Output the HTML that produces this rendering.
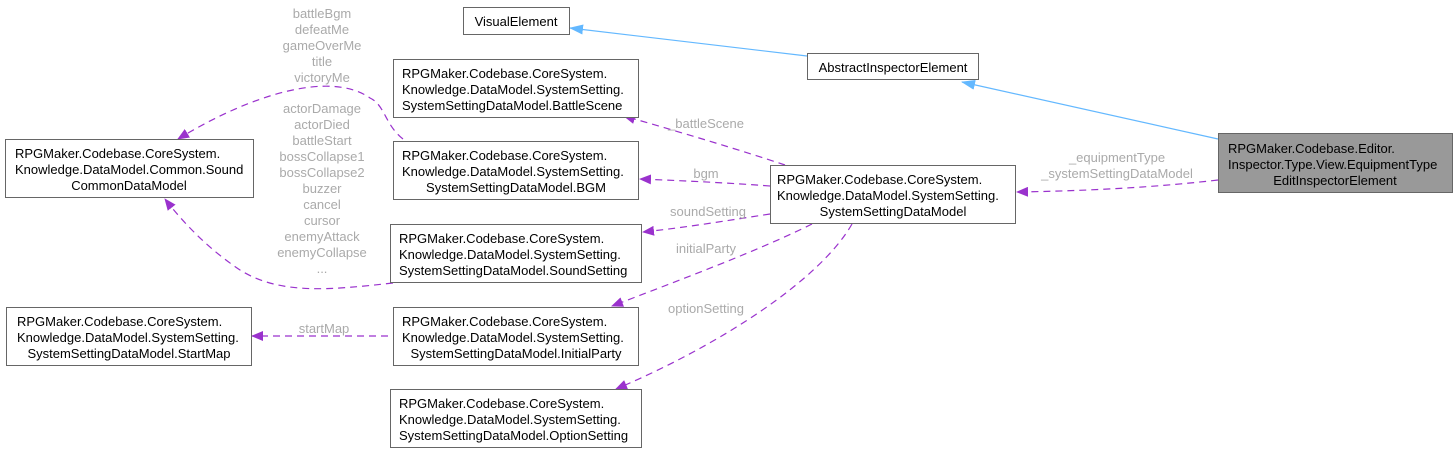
<!DOCTYPE html>
<html><head><meta charset="utf-8"><style>
html,body{margin:0;padding:0;background:#fff;}
svg{display:block;}
text{font-family:"Liberation Sans",Arial,sans-serif;font-size:13px;}
.n{fill:#000;}
.l{fill:#aaa;}
</style></head><body>
<svg width="1453" height="453" viewBox="0 0 1453 453" xmlns="http://www.w3.org/2000/svg">
<defs>
<marker id="pa" markerWidth="12" markerHeight="10" refX="11" refY="5" orient="auto" markerUnits="userSpaceOnUse"><path d="M0,0 L12,5 L0,10 z" fill="#9a32cd"/></marker>
<marker id="ba" markerWidth="14" markerHeight="10" refX="13" refY="5" orient="auto" markerUnits="userSpaceOnUse"><path d="M0,0 L14,5 L0,10 z" fill="#63b8ff"/></marker>
</defs>
<g fill="none" stroke-width="1.2">
<path d="M1218,139 L962,82" stroke="#63b8ff" marker-end="url(#ba)"/>
<path d="M807,56 L570,28" stroke="#63b8ff" marker-end="url(#ba)"/>
<g stroke="#9a32cd" stroke-dasharray="7,5" marker-end="url(#pa)">
<path d="M1218,180 C1150,188 1080,191 1017,192"/>
<path d="M785,165 C740,150 680,132 624,116"/>
<path d="M770,186 C730,183 690,181 640,179"/>
<path d="M770,214 C730,220 690,227 643,232"/>
<path d="M812,224 C760,250 680,280 612,306"/>
<path d="M852,224 C820,280 720,345 616,389"/>
<path d="M403,139 C385,125 385,105 370,98 C330,70 250,95 178,139"/>
<path d="M393,283 C330,290 280,295 240,270 C210,250 185,225 165,199"/>
<path d="M388,336 L252,336"/>
</g>
</g>
<g fill="#fff" stroke="#666">
<rect x="463.5" y="7.5" width="106" height="27"/>
<rect x="807.5" y="53.5" width="171" height="26"/>
<rect x="393.5" y="59.5" width="245" height="58"/>
<rect x="393.5" y="141.5" width="245" height="58"/>
<rect x="390.5" y="224.5" width="251" height="58"/>
<rect x="393.5" y="307.5" width="245" height="58"/>
<rect x="390.5" y="389.5" width="251" height="58"/>
<rect x="5.5" y="139.5" width="248" height="58"/>
<rect x="6.5" y="307.5" width="245" height="58"/>
<rect x="770.5" y="165.5" width="245" height="58"/>
<rect x="1218.5" y="133.5" width="234" height="59" fill="#999"/>
</g>
<g class="n" text-anchor="middle">
<text x="516" y="26">VisualElement</text>
<text x="893" y="72">AbstractInspectorElement</text>
<text x="516" y="78"><tspan x="402" text-anchor="start">RPGMaker.Codebase.CoreSystem.</tspan><tspan x="402" dy="16" text-anchor="start">Knowledge.DataModel.SystemSetting.</tspan><tspan x="402" dy="16" text-anchor="start">SystemSettingDataModel.BattleScene</tspan></text>
<text x="516" y="160"><tspan x="402" text-anchor="start">RPGMaker.Codebase.CoreSystem.</tspan><tspan x="402" dy="16" text-anchor="start">Knowledge.DataModel.SystemSetting.</tspan><tspan x="516" dy="16">SystemSettingDataModel.BGM</tspan></text>
<text x="516" y="243"><tspan x="399" text-anchor="start">RPGMaker.Codebase.CoreSystem.</tspan><tspan x="399" dy="16" text-anchor="start">Knowledge.DataModel.SystemSetting.</tspan><tspan x="399" dy="16" text-anchor="start">SystemSettingDataModel.SoundSetting</tspan></text>
<text x="516" y="326"><tspan x="402" text-anchor="start">RPGMaker.Codebase.CoreSystem.</tspan><tspan x="402" dy="16" text-anchor="start">Knowledge.DataModel.SystemSetting.</tspan><tspan x="516" dy="16">SystemSettingDataModel.InitialParty</tspan></text>
<text x="516" y="408"><tspan x="399" text-anchor="start">RPGMaker.Codebase.CoreSystem.</tspan><tspan x="399" dy="16" text-anchor="start">Knowledge.DataModel.SystemSetting.</tspan><tspan x="399" dy="16" text-anchor="start">SystemSettingDataModel.OptionSetting</tspan></text>
<text x="129" y="158"><tspan x="15" text-anchor="start">RPGMaker.Codebase.CoreSystem.</tspan><tspan x="15" dy="16" text-anchor="start">Knowledge.DataModel.Common.Sound</tspan><tspan x="129" dy="16">CommonDataModel</tspan></text>
<text x="129" y="326"><tspan x="17" text-anchor="start">RPGMaker.Codebase.CoreSystem.</tspan><tspan x="17" dy="16" text-anchor="start">Knowledge.DataModel.SystemSetting.</tspan><tspan x="129" dy="16">SystemSettingDataModel.StartMap</tspan></text>
<text x="893" y="184"><tspan x="777" text-anchor="start">RPGMaker.Codebase.CoreSystem.</tspan><tspan x="777" dy="16" text-anchor="start">Knowledge.DataModel.SystemSetting.</tspan><tspan x="893" dy="16">SystemSettingDataModel</tspan></text>
<text x="1335" y="153"><tspan x="1228" text-anchor="start">RPGMaker.Codebase.Editor.</tspan><tspan x="1228" dy="16" text-anchor="start">Inspector.Type.View.EquipmentType</tspan><tspan x="1335" dy="16">EditInspectorElement</tspan></text>
</g>
<g class="l" text-anchor="middle">
<text x="1117" y="162">_equipmentType</text>
<text x="1117" y="178">_systemSettingDataModel</text>
<text x="706" y="128">_battleScene</text>
<text x="706" y="178">bgm</text>
<text x="708" y="216">soundSetting</text>
<text x="706" y="253">initialParty</text>
<text x="706" y="313">optionSetting</text>
<text x="324" y="333">startMap</text>
<text x="322" y="18">battleBgm</text>
<text x="322" y="34">defeatMe</text>
<text x="322" y="50">gameOverMe</text>
<text x="322" y="66">title</text>
<text x="322" y="82">victoryMe</text>
<text x="322" y="113">actorDamage</text>
<text x="322" y="129">actorDied</text>
<text x="322" y="145">battleStart</text>
<text x="322" y="161">bossCollapse1</text>
<text x="322" y="177">bossCollapse2</text>
<text x="322" y="193">buzzer</text>
<text x="322" y="209">cancel</text>
<text x="322" y="225">cursor</text>
<text x="322" y="241">enemyAttack</text>
<text x="322" y="257">enemyCollapse</text>
<text x="322" y="273">...</text>
</g>
</svg>
</body></html>
